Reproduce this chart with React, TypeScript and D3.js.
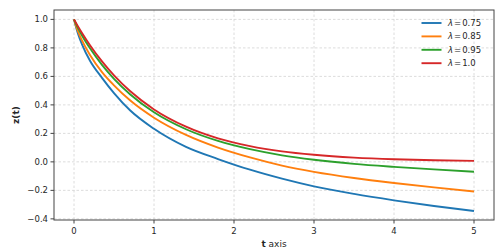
import React from 'react';
import * as d3 from 'd3';

// sample times (t axis)
const tValues = [0, 0.05, 0.1, 0.2, 0.35, 0.5, 0.7, 1.0, 1.4, 1.8, 2.2, 2.6, 3.0, 3.5, 4.0, 4.5, 5.0];

// z(t), one array per lambda
const z075 = [1.0, 0.9, 0.825, 0.71, 0.59, 0.483, 0.362, 0.232, 0.105, 0.02, -0.055, -0.118, -0.172, -0.225, -0.27, -0.31, -0.345];
const z085 = [1.0, 0.915, 0.853, 0.75, 0.63, 0.537, 0.432, 0.31, 0.189, 0.1, 0.031, -0.026, -0.07, -0.113, -0.148, -0.179, -0.208];
const z095 = [1.0, 0.939, 0.887, 0.797, 0.681, 0.583, 0.475, 0.348, 0.229, 0.147, 0.089, 0.046, 0.015, -0.014, -0.035, -0.053, -0.069];
const z100 = [1.0, 0.951, 0.905, 0.819, 0.705, 0.607, 0.497, 0.368, 0.247, 0.165, 0.111, 0.074, 0.05, 0.03, 0.018, 0.011, 0.007];

const lambdas = ['0.75', '0.85', '0.95', '1.0'];
const seriesValues = [z075, z085, z095, z100];
const colors = ['#1f77b4', '#ff7f0e', '#2ca02c', '#d62728'];

const xTicks = [0, 1, 2, 3, 4, 5];
const yTicks = [-0.4, -0.2, 0.0, 0.2, 0.4, 0.6, 0.8, 1.0];

const App = () => {
  const width = 504;
  const height = 252;
  const margin = { top: 10, right: 10, bottom: 32, left: 54 };
  const font = 'DejaVu Sans, sans-serif';

  const x = d3.scaleLinear().domain([-0.25, 5.25]).range([margin.left, width - margin.right]);
  const y = d3.scaleLinear().domain([-0.408, 1.066]).range([height - margin.bottom, margin.top]);

  const line = d3
    .line<number>()
    .x((_, i) => x(tValues[i]))
    .y((d) => y(d))
    .curve(d3.curveMonotoneX);

  const fmt = (v: number) => v.toFixed(1).replace('-', '\u2212');

  const x0 = margin.left;
  const x1 = width - margin.right;
  const y0 = height - margin.bottom;
  const y1 = margin.top;

  return (
    <svg
      width={width}
      height={height}
      style={{ position: 'absolute', left: 0, top: 0, background: 'white' }}
      fontFamily={font}
    >
      {/* grid */}
      <g stroke="#d3d3d3" strokeWidth={0.8} strokeDasharray="2.5,2">
        {xTicks.map((t) => (
          <line key={'gx' + t} x1={x(t)} x2={x(t)} y1={y1} y2={y0} />
        ))}
        {yTicks.map((t) => (
          <line key={'gy' + t} x1={x0} x2={x1} y1={y(t)} y2={y(t)} />
        ))}
      </g>

      {/* curves */}
      {seriesValues.map((vals, i) => (
        <path key={lambdas[i]} d={line(vals) || ''} fill="none" stroke={colors[i]} strokeWidth={1.9} />
      ))}

      {/* frame */}
      <rect x={x0} y={y1} width={x1 - x0} height={y0 - y1} fill="none" stroke="#444" strokeWidth={1} />

      {/* x axis */}
      {xTicks.map((t) => (
        <g key={'xt' + t}>
          <line x1={x(t)} x2={x(t)} y1={y0} y2={y0 + 3.5} stroke="#444" />
          <text x={x(t)} y={y0 + 13.5} fontSize={8.5} textAnchor="middle" fill="#262626">
            {t}
          </text>
        </g>
      ))}
      <text x={(x0 + x1) / 2} y={247} fontSize={9} textAnchor="middle" fill="#262626">
        <tspan fontWeight="bold">t</tspan> axis
      </text>

      {/* y axis */}
      {yTicks.map((t) => (
        <g key={'yt' + t}>
          <line x1={x0 - 3.5} x2={x0} y1={y(t)} y2={y(t)} stroke="#444" />
          <text x={x0 - 6} y={y(t) + 3} fontSize={8.5} textAnchor="end" fill="#262626">
            {fmt(t)}
          </text>
        </g>
      ))}
      <text
        transform={`translate(19,${(y0 + y1) / 2}) rotate(-90)`}
        fontSize={9}
        fontWeight="bold"
        textAnchor="middle"
        fill="#262626"
      >
        z(t)
      </text>

      {/* legend */}
      {lambdas.map((l, i) => {
        const ly = 23 + i * 13.4;
        return (
          <g key={'lg' + l}>
            <line x1={421.5} x2={441.5} y1={ly} y2={ly} stroke={colors[i]} strokeWidth={1.9} />
            <text x={448} y={ly + 3} fontSize={8.5} fill="#262626">
              <tspan fontStyle="italic">λ</tspan>
              <tspan dx={1}>=</tspan>
              <tspan dx={1}>{l}</tspan>
            </text>
          </g>
        );
      })}
    </svg>
  );
};

export default App;
